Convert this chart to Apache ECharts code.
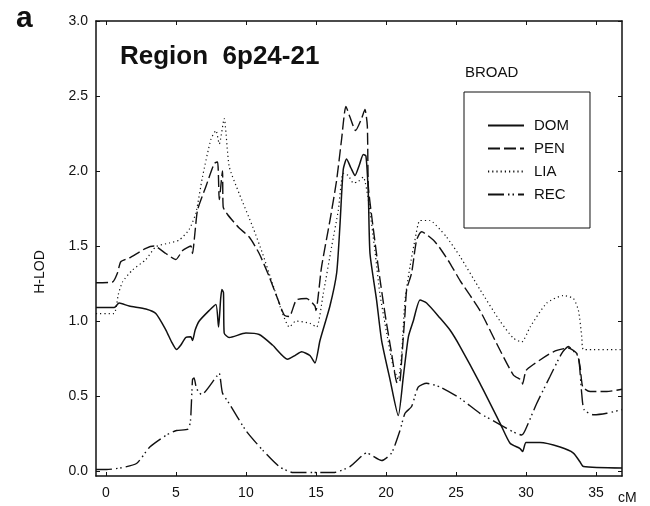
<!DOCTYPE html>
<html>
<head>
<meta charset="utf-8">
<script src="https://cdn.jsdelivr.net/npm/echarts@6/dist/echarts.min.js"></script>
<style>
  html, body { margin: 0; padding: 0; background: #fff; }
  #chart { width: 650px; height: 506px; }
</style>
</head>
<body>
<div id="chart"></div>
<script>
// tick labels
const xTicks = [0, 5, 10, 15, 20, 25, 30, 35];
const yTicks = [0, 0.5, 1.0, 1.5, 2.0, 2.5, 3.0];

// DOM (solid)
const domCm  = [-0.7, 0.6, 0.95, 1.67, 2.86, 3.57, 4.29, 4.7, 5.05, 5.36, 5.71, 6.07, 6.19, 6.38, 6.67, 7.38, 7.86, 8.05, 8.2, 8.29, 8.4, 8.45, 8.81, 10.0, 10.95, 11.9, 12.98, 13.5, 13.98, 14.57, 14.93, 15.29, 16.0, 16.48, 16.71, 16.95, 17.19, 17.5, 17.79, 18.1, 18.38, 18.57, 18.74, 18.86, 19.33, 19.69, 20.29, 20.88, 21.24, 21.6, 21.95, 22.43, 22.9, 23.86, 24.57, 25.29, 26.71, 28.14, 28.86, 29.57, 29.76, 30.0, 31.0, 32.43, 33.38, 33.86, 34.1, 36.85];
const domLod = [1.09, 1.09, 1.12, 1.10, 1.08, 1.05, 0.94, 0.86, 0.81, 0.84, 0.89, 0.895, 0.87, 0.94, 1.0, 1.07, 1.11, 0.96, 1.15, 1.21, 1.19, 0.92, 0.89, 0.92, 0.91, 0.84, 0.745, 0.77, 0.795, 0.77, 0.72, 0.87, 1.10, 1.32, 1.63, 2.01, 2.08, 2.02, 1.97, 2.04, 2.11, 2.10, 1.85, 1.45, 1.14, 0.87, 0.61, 0.37, 0.63, 0.895, 1.0, 1.14, 1.12, 1.02, 0.94, 0.83, 0.585, 0.32, 0.185, 0.15, 0.13, 0.19, 0.19, 0.16, 0.12, 0.06, 0.03, 0.02];

// PEN (dashed)
const penCm  = [-0.7, 0.48, 0.83, 1.07, 1.67, 2.86, 3.45, 4.29, 5.0, 5.48, 6.07, 6.19, 6.36, 6.55, 7.14, 7.74, 7.98, 8.1, 8.33, 8.38, 8.69, 9.52, 10.24, 10.95, 11.67, 12.26, 12.74, 13.1, 13.6, 14.33, 14.93, 15.0, 15.4, 16.0, 16.48, 16.83, 17.14, 17.43, 17.83, 18.26, 18.5, 18.67, 18.74, 18.98, 19.45, 19.93, 20.4, 20.81, 21.0, 21.12, 21.36, 21.48, 21.83, 22.19, 22.55, 23.38, 23.86, 24.57, 25.29, 26.71, 27.9, 29.1, 29.69, 29.75, 30.0, 30.52, 31.95, 33.02, 33.62, 33.86, 34.05, 34.57, 35.76, 36.85];
const penLod = [1.255, 1.26, 1.32, 1.395, 1.42, 1.485, 1.50, 1.45, 1.41, 1.47, 1.50, 1.45, 1.585, 1.74, 1.895, 2.05, 2.06, 1.81, 2.00, 1.76, 1.71, 1.62, 1.56, 1.45, 1.295, 1.15, 1.04, 1.03, 1.14, 1.15, 1.10, 1.07, 1.36, 1.67, 1.94, 2.21, 2.43, 2.36, 2.27, 2.35, 2.41, 2.30, 1.90, 1.70, 1.36, 1.05, 0.785, 0.585, 0.6, 0.74, 1.05, 1.21, 1.32, 1.54, 1.595, 1.54, 1.485, 1.385, 1.27, 1.07, 0.85, 0.64, 0.605, 0.58, 0.67, 0.71, 0.795, 0.82, 0.785, 0.695, 0.56, 0.53, 0.53, 0.545];

// LIA (dotted)
const liaCm  = [-0.7, 0.57, 0.9, 1.19, 1.9, 2.86, 3.57, 4.52, 5.24, 5.95, 6.43, 6.9, 7.5, 7.86, 8.1, 8.45, 8.81, 9.52, 10.48, 11.19, 11.9, 12.62, 13.1, 13.57, 14.57, 15.05, 15.52, 16.12, 16.6, 16.95, 17.31, 17.67, 18.02, 18.38, 18.74, 19.21, 19.57, 20.05, 20.52, 20.88, 21.12, 21.36, 21.71, 22.07, 22.43, 23.14, 23.86, 24.33, 25.29, 26.71, 28.14, 29.1, 29.69, 30.29, 31.48, 32.67, 33.38, 33.74, 33.98, 34.1, 36.85];
const liaLod = [1.05, 1.05, 1.18, 1.26, 1.34, 1.41, 1.495, 1.52, 1.54, 1.61, 1.72, 1.96, 2.21, 2.27, 2.18, 2.35, 2.03, 1.85, 1.63, 1.45, 1.25, 1.05, 0.96, 1.0, 0.985, 0.96, 1.18, 1.495, 1.74, 1.985, 1.97, 1.92, 1.93, 1.96, 1.81, 1.47, 1.18, 0.92, 0.695, 0.61, 0.785, 1.14, 1.36, 1.54, 1.67, 1.67, 1.61, 1.56, 1.43, 1.21, 1.0, 0.885, 0.86, 0.96, 1.12, 1.17, 1.15, 1.07, 0.895, 0.81, 0.81];

// REC (dash-dot-dot)
const recCm  = [-0.7, 0.05, 1.0, 2.19, 3.14, 4.33, 5.05, 5.88, 6.05, 6.19, 6.3, 6.48, 6.83, 7.9, 8.1, 8.33, 8.81, 10.0, 11.19, 12.38, 13.38, 14.8, 16.24, 17.43, 18.38, 18.62, 19.69, 20.4, 21.0, 21.36, 21.83, 22.3, 22.9, 23.86, 25.29, 26.71, 28.14, 29.1, 29.69, 29.93, 30.76, 31.71, 32.55, 33.02, 33.38, 33.74, 33.98, 34.14, 34.81, 35.76, 36.85];
const recLod = [0.01, 0.01, 0.02, 0.05, 0.16, 0.24, 0.27, 0.28, 0.34, 0.61, 0.62, 0.55, 0.51, 0.63, 0.65, 0.52, 0.45, 0.27, 0.14, 0.03, -0.01, -0.01, -0.01, 0.03, 0.11, 0.12, 0.07, 0.12, 0.27, 0.385, 0.43, 0.56, 0.585, 0.56, 0.485, 0.385, 0.31, 0.26, 0.24, 0.27, 0.45, 0.63, 0.785, 0.83, 0.8, 0.76, 0.51, 0.41, 0.375, 0.385, 0.41];

const zip = (xs, ys) => xs.map((x, i) => [x, ys[i]]);
const ink = '#111';
const font = '"Liberation Sans", Arial, sans-serif';

function curve(name, xs, ys, dash, width) {
  return {
    name: name,
    type: 'line',
    data: zip(xs, ys),
    symbol: 'none',
    smooth: 0.2,
    lineStyle: { color: ink, width: width, type: dash },
    itemStyle: { color: ink }
  };
}

const frameAxis = {
  type: 'value',
  axisLine: { show: true, onZero: false, lineStyle: { color: ink, width: 1.5 } },
  axisTick: { show: true, inside: true, length: 4, lineStyle: { color: ink, width: 1 } },
  splitLine: { show: false }
};

const chart = echarts.init(document.getElementById('chart'));
chart.setOption({
  animation: false,
  backgroundColor: '#fff',
  grid: { left: 96, right: 28, top: 21, bottom: 30 },
  xAxis: [
    Object.assign({}, frameAxis, {
      min: -0.7, max: 36.85, position: 'bottom',
      axisTick: Object.assign({}, frameAxis.axisTick, { customValues: xTicks }),
      axisLabel: { customValues: xTicks, margin: 10, fontSize: 14, color: ink, fontFamily: font }
    }),
    Object.assign({}, frameAxis, {
      min: -0.7, max: 36.85, position: 'top',
      axisTick: Object.assign({}, frameAxis.axisTick, { customValues: xTicks }),
      axisLabel: { show: false }
    })
  ],
  yAxis: [
    Object.assign({}, frameAxis, {
      min: -0.033, max: 3.0, position: 'left',
      axisTick: Object.assign({}, frameAxis.axisTick, { customValues: yTicks }),
      axisLabel: { customValues: yTicks, margin: 8, fontSize: 14, color: ink, fontFamily: font,
        formatter: v => v.toFixed(1) }
    }),
    Object.assign({}, frameAxis, {
      min: -0.033, max: 3.0, position: 'right',
      axisTick: Object.assign({}, frameAxis.axisTick, { customValues: yTicks }),
      axisLabel: { show: false }
    })
  ],
  legend: {
    orient: 'vertical',
    left: 464, top: 92,
    borderColor: ink, borderWidth: 1,
    padding: [26, 21, 26, 23],
    itemWidth: 36, itemHeight: 14, itemGap: 8,
    itemStyle: { opacity: 0 },
    textStyle: { fontSize: 15, color: ink, fontFamily: font, padding: [0, 0, 0, 5] },
    data: ['DOM', 'PEN', 'LIA', 'REC']
  },
  graphic: [
    { type: 'text', left: 16, top: 4, style: { text: 'a', font: 'bold 30px ' + font, fill: ink } },
    { type: 'text', x: 120, y: 57, style: { text: 'Region  6p24-21', font: 'bold 26px ' + font, fill: ink, textVerticalAlign: 'middle' } },
    { type: 'text', x: 465, y: 73, style: { text: 'BROAD', font: '15px ' + font, fill: ink, textVerticalAlign: 'middle' } },
    { type: 'text', x: 40, y: 272, rotation: Math.PI / 2, style: { text: 'H-LOD', font: '14px ' + font, fill: ink, textAlign: 'center', textVerticalAlign: 'middle' } },
    { type: 'text', x: 618, y: 498, style: { text: 'cM', font: '14px ' + font, fill: ink, textVerticalAlign: 'middle' } }
  ],
  series: [
    curve('DOM', domCm, domLod, 'solid', 1.5),
    curve('PEN', penCm, penLod, [12, 4], 1.4),
    curve('LIA', liaCm, liaLod, [1.2, 3], 1.2),
    curve('REC', recCm, recLod, [16, 4, 1.5, 3, 1.5, 4], 1.4)
  ]
});
</script>
</body>
</html>
